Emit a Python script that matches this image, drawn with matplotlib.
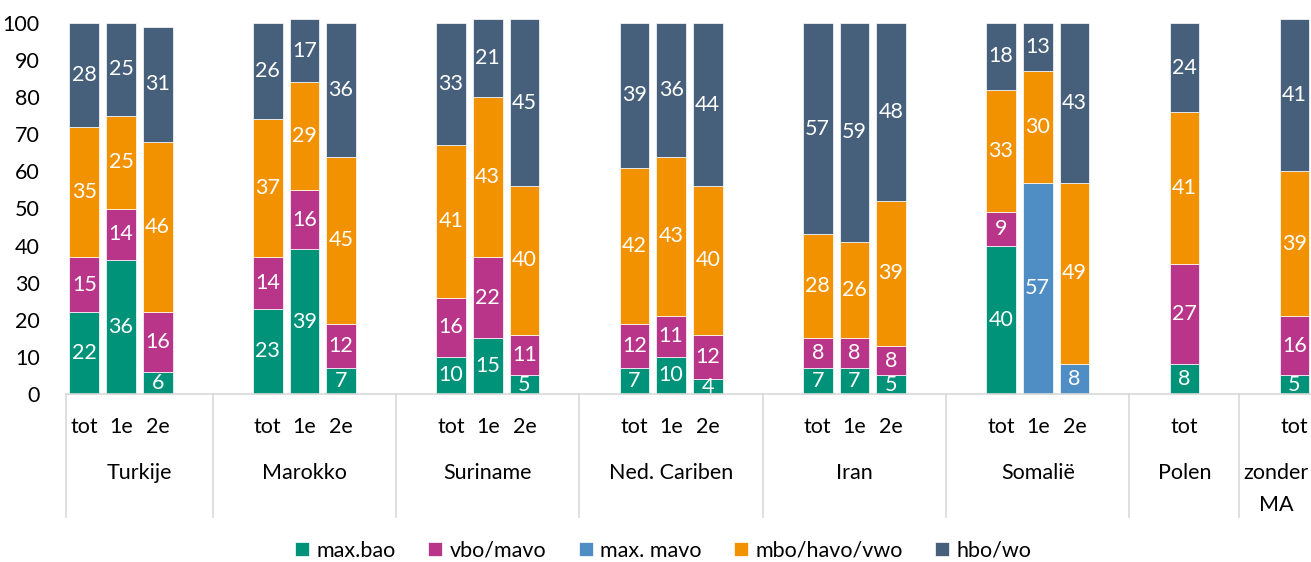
import matplotlib.pyplot as plt
import numpy as np

plt.rcParams['font.family'] = ['Lato', 'DejaVu Sans']

# data
groups = ['Turkije', 'Marokko', 'Suriname', 'Ned. Cariben', 'Iran', 'Somalië', 'Polen', 'zonder\nMA']
sub = [['tot', '1e', '2e'], ['tot', '1e', '2e'], ['tot', '1e', '2e'], ['tot', '1e', '2e'],
       ['tot', '1e', '2e'], ['tot', '1e', '2e'], ['tot'], ['tot']]
series = ['max.bao', 'vbo/mavo', 'max. mavo', 'mbo/havo/vwo', 'hbo/wo']
max_bao  = [22, 36, 6,  23, 39, 7,  10, 15, 5,  7, 10, 4,  7, 7, 5,  40, 0, 0,  8,  5]
vbo_mavo = [15, 14, 16, 14, 16, 12, 16, 22, 11, 12, 11, 12, 8, 8, 8,  9, 0, 0,  27, 16]
max_mavo = [0, 0, 0,    0, 0, 0,    0, 0, 0,    0, 0, 0,    0, 0, 0,  0, 57, 8, 0,  0]
mbo      = [35, 25, 46, 37, 29, 45, 41, 43, 40, 42, 43, 40, 28, 26, 39, 33, 30, 49, 41, 39]
hbo_wo   = [28, 25, 31, 26, 17, 36, 33, 21, 45, 39, 36, 44, 57, 59, 48, 18, 13, 43, 24, 41]
colors = ['#00937A', '#B9358A', '#4F8EC4', '#F29200', '#465F7A']

FS = 15.5

# slot positions: blank slot between groups, group borders halfway
pos = []
bounds = [-0.5]
k = 0
for gi, s in enumerate(sub):
    if gi > 0:
        k += 1
    for j in range(len(s)):
        pos.append(k)
        k += 1
    k += 1
    bounds.append(k - 0.5)
pos = np.array(pos)
xmax = 33.5
bounds[-1] = xmax

fig = plt.figure(figsize=(13.11, 5.62), dpi=100)
ax = fig.add_axes([66/1311, 168/562, (xmax + 0.5) * 36.67 / 1311, 371/562])

data = [max_bao, vbo_mavo, max_mavo, mbo, hbo_wo]
bottom = np.zeros(len(pos))
for name, vals, c in zip(series, data, colors):
    vals = np.array(vals, dtype=float)
    ax.bar(pos, vals, 0.81, bottom=bottom, color=c, label=name,
           edgecolor='white', linewidth=0.5, clip_on=False)
    for x, b, v in zip(pos, bottom, vals):
        if v > 0:
            ax.text(x, b + v / 2, f'{v:.0f}', ha='center', va='center',
                    color='white', fontsize=FS, clip_on=False)
    bottom += vals

ax.set_xlim(-0.5, xmax)
ax.set_ylim(0, 100)
ax.set_yticks(range(0, 101, 10))
ax.tick_params(axis='y', length=0, labelsize=FS, pad=19)
ax.set_xticks([])
for sp in ['top', 'right', 'left']:
    ax.spines[sp].set_visible(False)
ax.spines['bottom'].set_color('#D9D9D9')
ax.spines['bottom'].set_linewidth(1.2)

trans = ax.get_xaxis_transform()
i = 0
for gi, (g, s) in enumerate(zip(groups, sub)):
    for lab in s:
        ax.text(pos[i], -0.089, lab, transform=trans, ha='center', va='center', fontsize=FS)
        i += 1
    cx = (bounds[gi] + bounds[gi + 1]) / 2
    lines = g.split('\n')
    for li, t in enumerate(lines):
        ax.text(cx, -0.213 - 0.086 * li, t, transform=trans, ha='center', va='center', fontsize=FS)
for b in bounds[:-1]:
    ax.plot([b, b], [0, -0.332], transform=trans, color='#D9D9D9', lw=1.2, clip_on=False)

fig.legend(loc='center', bbox_to_anchor=(0.506, 0.02), ncol=5, frameon=False,
           fontsize=FS, handlelength=0.65, handleheight=0.65, handletextpad=0.35,
           columnspacing=1.5)

fig.savefig('out.png', dpi=100)
